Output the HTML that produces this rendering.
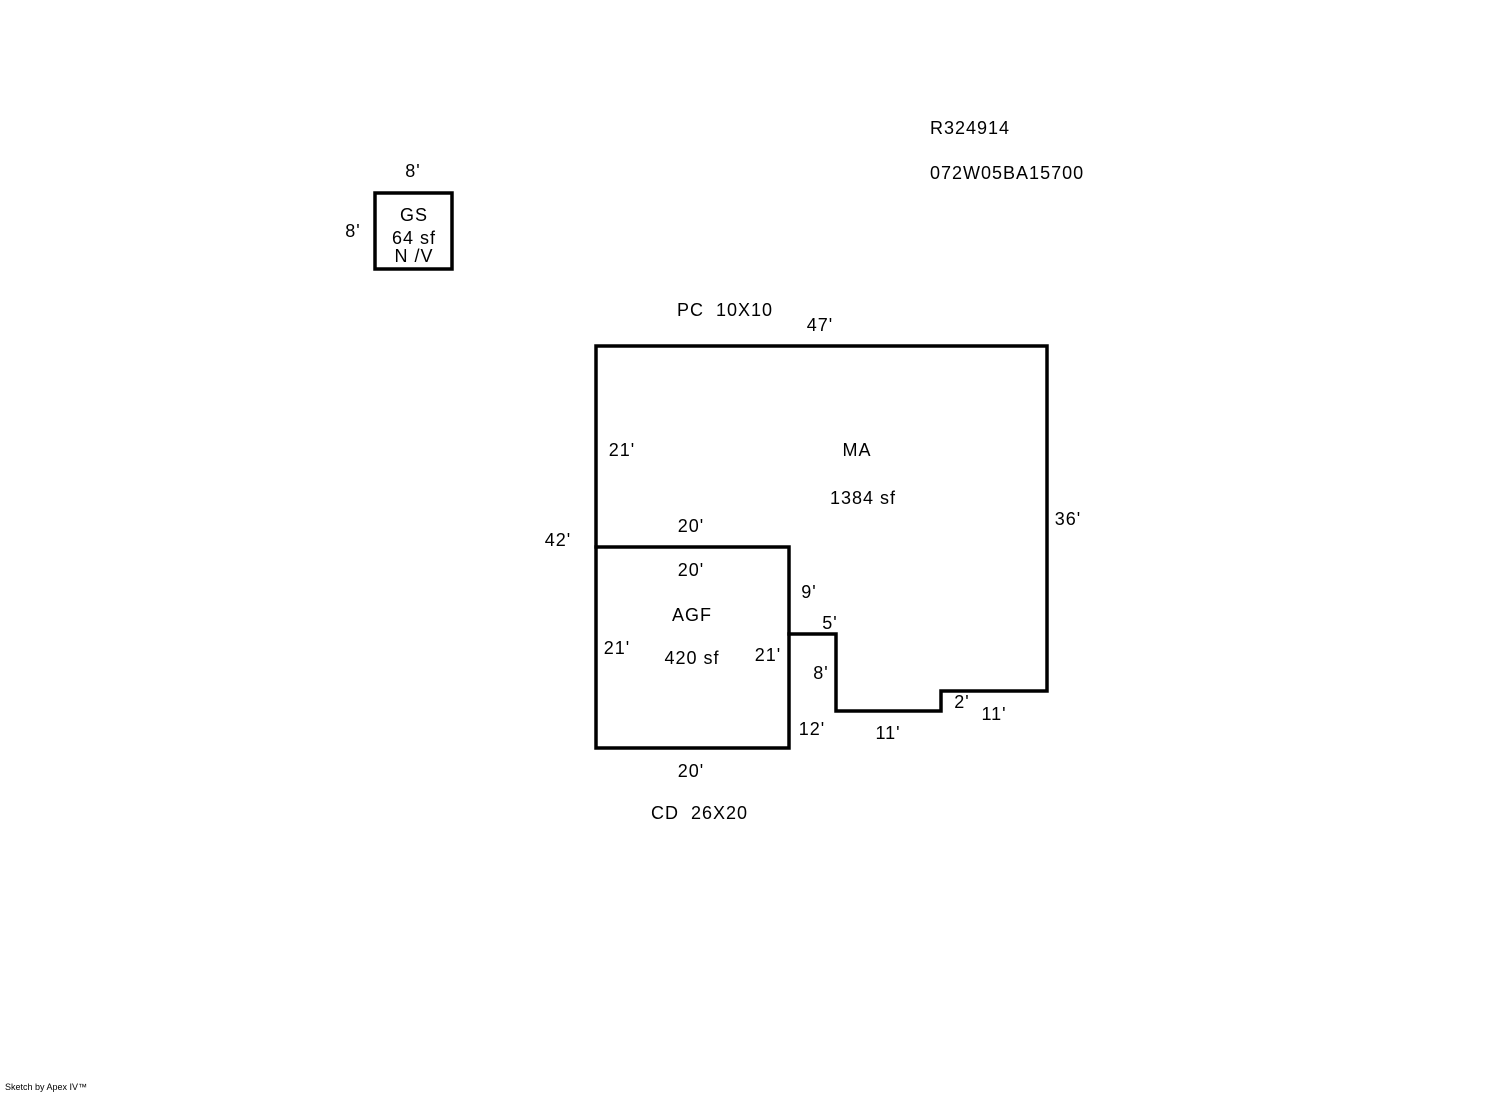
<!DOCTYPE html>
<html><head><meta charset="utf-8"><style>
html,body{margin:0;padding:0;background:#fff;}
svg{display:block;}
text{font-family:"Liberation Sans",Arial,sans-serif;font-size:18px;fill:#000;letter-spacing:1px;}
</style></head><body>
<svg width="1492" height="1094" viewBox="0 0 1492 1094">
<g fill="none" stroke="#000" stroke-width="3.5" stroke-linecap="square">
<rect x="375" y="193" width="77" height="76"/>
<polyline points="596,547 596,346 1047,346 1047,691 941,691 941,711 836,711 836,634 789,634"/>
<rect x="596" y="547" width="193" height="201"/>
</g>
<g text-anchor="middle">
<text x="413" y="177">8'</text>
<text x="353" y="237">8'</text>
<text x="414" y="221">GS</text>
<text x="414" y="244">64 sf</text>
<text x="414" y="262">N /V</text>
<text x="820" y="331">47'</text>
<text x="622" y="456">21'</text>
<text x="857" y="456">MA</text>
<text x="863" y="504">1384 sf</text>
<text x="1068" y="525">36'</text>
<text x="558" y="546">42'</text>
<text x="691" y="532">20'</text>
<text x="691" y="576">20'</text>
<text x="809" y="598">9'</text>
<text x="692" y="621">AGF</text>
<text x="830" y="629">5'</text>
<text x="617" y="654">21'</text>
<text x="692" y="664">420 sf</text>
<text x="768" y="661">21'</text>
<text x="821" y="679">8'</text>
<text x="962" y="708">2'</text>
<text x="994" y="720">11'</text>
<text x="812" y="735">12'</text>
<text x="888" y="739">11'</text>
<text x="691" y="777">20'</text>
</g>
<text x="930" y="134">R324914</text>
<text x="930" y="179">072W05BA15700</text>
<text x="677" y="316">PC&#160;&#160;10X10</text>
<text x="651" y="819">CD&#160;&#160;26X20</text>
<text x="5" y="1090" style="font-size:9px;letter-spacing:0">Sketch by Apex IV™</text>
</svg>
</body></html>
